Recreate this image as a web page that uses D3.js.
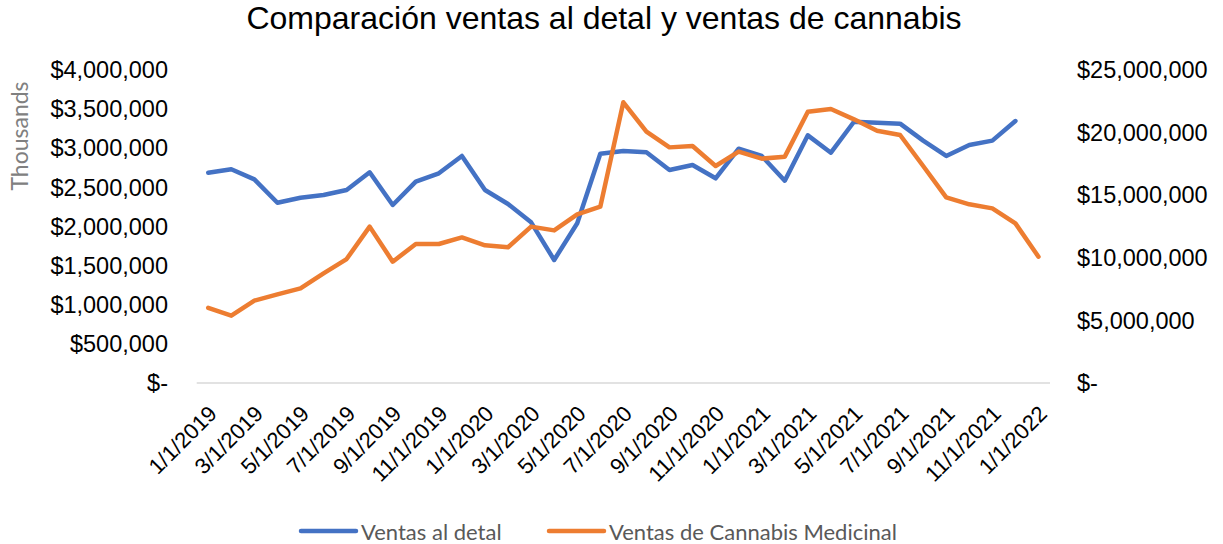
<!DOCTYPE html>
<html>
<head>
<meta charset="utf-8">
<script src="https://cdn.jsdelivr.net/npm/d3@7"></script>
<style>
  body { margin: 0; background: #fff; }
  svg { display: block; }
</style>
</head>
<body>
<svg id="chart" width="1223" height="544"></svg>
<script>
// monthly dates 1/1/2019 .. 1/1/2022
const months = [
  "1/1/2019", "2/1/2019", "3/1/2019", "4/1/2019", "5/1/2019", "6/1/2019",
  "7/1/2019", "8/1/2019", "9/1/2019", "10/1/2019", "11/1/2019", "12/1/2019",
  "1/1/2020", "2/1/2020", "3/1/2020", "4/1/2020", "5/1/2020", "6/1/2020",
  "7/1/2020", "8/1/2020", "9/1/2020", "10/1/2020", "11/1/2020", "12/1/2020",
  "1/1/2021", "2/1/2021", "3/1/2021", "4/1/2021", "5/1/2021", "6/1/2021",
  "7/1/2021", "8/1/2021", "9/1/2021", "10/1/2021", "11/1/2021", "12/1/2021",
  "1/1/2022"
];

// Ventas al detal (left axis, thousands) - no value for 1/1/2022
const ventasDetal = [
  2687000, 2731000, 2603000, 2304000, 2368000, 2403000, 2466000, 2693000, 2275000, 2573000,
  2680000, 2901000, 2466000, 2288000, 2053000, 1572000, 2041000, 2930000, 2965000, 2948000,
  2722000, 2786000, 2616000, 2994000, 2901000, 2585000, 3165000, 2943000, 3339000, 3327000,
  3314000, 3097000, 2901000, 3042000, 3097000, 3348000, null
];

// Ventas de Cannabis Medicinal (right axis)
const ventasCannabis = [
  6010000, 5380000, 6580000, 7080000, 7560000, 8760000, 9900000, 12490000, 9690000, 11100000,
  11100000, 11630000, 11000000, 10840000, 12490000, 12190000, 13470000, 14080000, 22420000, 20070000,
  18820000, 18930000, 17330000, 18480000, 17920000, 18080000, 21670000, 21880000, 21060000, 20150000,
  19810000, 17330000, 14830000, 14270000, 13950000, 12750000, 10090000
];

const leftTicks = [0, 500000, 1000000, 1500000, 2000000, 2500000, 3000000, 3500000, 4000000];
const rightTicks = [0, 5000000, 10000000, 15000000, 20000000, 25000000];

const seriesNames = ["Ventas al detal", "Ventas de Cannabis Medicinal"];
const colors = ["#4472C4", "#ED7D31"];

const svg = d3.select("#chart");
const plotLeft = 196.7, plotRight = 1050;
const plotTop = 70, plotBottom = 383;
const tickFont = "Liberation Sans, Arial, sans-serif";
const labelFont = "Lato, Open Sans, sans-serif";

const x = d3.scaleBand()
  .domain(months)
  .range([plotLeft, plotRight]);

const yL = d3.scaleLinear().domain([0, 4000000]).range([plotBottom, plotTop]);
const yR = d3.scaleLinear().domain([0, 25000000]).range([plotBottom, plotTop]);

const fmt = d3.format(",");
const money = v => v === 0 ? "$-" : "$" + fmt(v);

// title
svg.append("text")
  .attr("x", 604)
  .attr("y", 29)
  .attr("text-anchor", "middle")
  .attr("font-family", tickFont)
  .attr("font-size", 32)
  .attr("fill", "#000")
  .text("Comparación ventas al detal y ventas de cannabis");

// x axis line
svg.append("line")
  .attr("x1", plotLeft).attr("x2", plotRight)
  .attr("y1", plotBottom).attr("y2", plotBottom)
  .attr("stroke", "#d9d9d9")
  .attr("stroke-width", 1.5);

// left axis labels
svg.append("g")
  .selectAll("text")
  .data(leftTicks)
  .join("text")
  .attr("x", 168)
  .attr("y", d => yL(d))
  .attr("dy", "0.35em")
  .attr("text-anchor", "end")
  .attr("font-family", tickFont)
  .attr("font-size", 23.5)
  .attr("fill", "#000")
  .text(d => money(d));

// right axis labels
svg.append("g")
  .selectAll("text")
  .data(rightTicks)
  .join("text")
  .attr("x", 1077)
  .attr("y", d => yR(d))
  .attr("dy", "0.35em")
  .attr("text-anchor", "start")
  .attr("font-family", tickFont)
  .attr("font-size", 23.5)
  .attr("fill", "#000")
  .text(d => money(d));

// "Thousands" unit label
svg.append("text")
  .attr("transform", "translate(28,136) rotate(-90)")
  .attr("text-anchor", "middle")
  .attr("font-family", labelFont)
  .attr("font-size", 23)
  .attr("fill", "#808080")
  .text("Thousands");

// x labels, every other month, rotated
const xLabels = months.filter((d, i) => i % 2 === 0);
svg.append("g")
  .selectAll("text")
  .data(xLabels)
  .join("text")
  .attr("transform", d => `translate(${x(d) + x.bandwidth() / 2 + 10},${plotBottom + 32}) rotate(-45)`)
  .attr("text-anchor", "end")
  .attr("font-family", tickFont)
  .attr("font-size", 22)
  .attr("fill", "#000")
  .text(d => d);

// lines
const cx = d => x(d) + x.bandwidth() / 2;

const lineL = d3.line()
  .defined(d => d[1] != null)
  .x(d => cx(d[0]))
  .y(d => yL(d[1]));

const lineR = d3.line()
  .defined(d => d[1] != null)
  .x(d => cx(d[0]))
  .y(d => yR(d[1]));

svg.append("path")
  .datum(months.map((m, i) => [m, ventasDetal[i]]))
  .attr("d", lineL)
  .attr("fill", "none")
  .attr("stroke", colors[0])
  .attr("stroke-width", 4.5)
  .attr("stroke-linejoin", "round")
  .attr("stroke-linecap", "round");

svg.append("path")
  .datum(months.map((m, i) => [m, ventasCannabis[i]]))
  .attr("d", lineR)
  .attr("fill", "none")
  .attr("stroke", colors[1])
  .attr("stroke-width", 4.5)
  .attr("stroke-linejoin", "round")
  .attr("stroke-linecap", "round");

// legend
const legendPos = [301, 549];
const leg = svg.append("g")
  .selectAll("g")
  .data(seriesNames)
  .join("g")
  .attr("transform", (d, i) => `translate(${legendPos[i]},531)`);

leg.append("line")
  .attr("x1", 0).attr("x2", 55)
  .attr("stroke", (d, i) => colors[i])
  .attr("stroke-width", 4.5)
  .attr("stroke-linecap", "round");

leg.append("text")
  .attr("x", 60)
  .attr("y", 9)
  .attr("font-family", labelFont)
  .attr("font-size", 22)
  .attr("fill", "#595959")
  .text(d => d);
</script>
</body>
</html>
